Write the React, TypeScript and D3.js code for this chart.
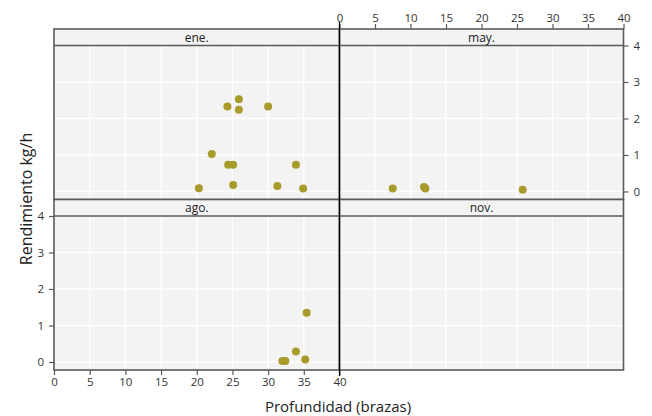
import React, { useEffect, useRef } from 'react';
import * as d3 from 'd3';

// Profundidad (brazas) / Rendimiento kg/h por mes
const months = ['ene.', 'may.', 'ago.', 'nov.'];
const eneDepth = [20.3, 22.1, 24.3, 25.9, 25.9, 30.0, 24.4, 25.1, 25.1, 31.3, 33.9, 34.9];
const eneYield = [0.09, 1.03, 2.33, 2.53, 2.24, 2.33, 0.73, 0.73, 0.18, 0.15, 0.73, 0.08];
const mayDepth = [7.5, 11.9, 12.1, 25.8];
const mayYield = [0.08, 0.12, 0.08, 0.05];
const agoDepth = [32.0, 32.4, 33.9, 35.2, 35.4];
const agoYield = [0.03, 0.03, 0.29, 0.07, 1.35];
const novDepth: number[] = [];
const novYield: number[] = [];
const xTicks = [0, 5, 10, 15, 20, 25, 30, 35, 40];
const yTicks = [0, 1, 2, 3, 4];

function App() {
  const ref = useRef<SVGSVGElement>(null);

  useEffect(() => {
    const svg = d3.select(ref.current);
    svg.selectAll('*').remove();

    const L = 54, M = 339.5, R = 623.5;
    const stripH = 16.5;
    const rows = [{ top: 29 }, { top: 199.5 }];
    const panelH = 154;
    const frame = '#5a5a5a';
    const font = "'Open Sans', 'Noto Sans', sans-serif";

    const xs = [
      d3.scaleLinear().domain([0, 40]).range([L, M]),
      d3.scaleLinear().domain([0, 40]).range([M, R]),
    ];
    const ys = rows.map(r =>
      d3.scaleLinear().domain([-0.22, 4]).range([r.top + stripH + panelH, r.top + stripH])
    );

    const data = [
      { depth: eneDepth, yld: eneYield },
      { depth: mayDepth, yld: mayYield },
      { depth: agoDepth, yld: agoYield },
      { depth: novDepth, yld: novYield },
    ];

    months.forEach((m, i) => {
      const col = i % 2, row = Math.floor(i / 2);
      const x = xs[col], y = ys[row];
      const x0 = x.range()[0], x1 = x.range()[1];
      const top = rows[row].top;
      const g = svg.append('g');

      // panel background
      g.append('rect').attr('x', x0).attr('y', top + stripH)
        .attr('width', x1 - x0).attr('height', panelH).attr('fill', '#f3f3f3');
      // grid
      g.selectAll('.gx').data(xTicks.slice(1, -1)).join('line')
        .attr('x1', d => x(d)).attr('x2', d => x(d))
        .attr('y1', top + stripH).attr('y2', top + stripH + panelH)
        .attr('stroke', '#ffffff').attr('stroke-width', 1.3);
      g.selectAll('.gy').data(yTicks.slice(0, -1)).join('line')
        .attr('x1', x0).attr('x2', x1)
        .attr('y1', d => y(d)).attr('y2', d => y(d))
        .attr('stroke', '#ffffff').attr('stroke-width', 1.3);
      // strip
      g.append('rect').attr('x', x0).attr('y', top)
        .attr('width', x1 - x0).attr('height', stripH).attr('fill', '#f3f3f3');
      g.append('line').attr('x1', x0).attr('x2', x1)
        .attr('y1', top + stripH).attr('y2', top + stripH)
        .attr('stroke', frame).attr('stroke-width', 1.6);
      g.append('text').attr('x', (x0 + x1) / 2).attr('y', top + 12.5)
        .attr('text-anchor', 'middle').style('font-family', font)
        .style('font-size', '12px').attr('fill', '#222').text(m);
      // points
      g.selectAll('circle').data(data[i].depth).join('circle')
        .attr('cx', d => x(d)).attr('cy', (d, k) => y(data[i].yld[k]))
        .attr('r', 4).attr('fill', '#a89a2b');
      // frame
      g.append('rect').attr('x', x0).attr('y', top)
        .attr('width', x1 - x0).attr('height', stripH + panelH)
        .attr('fill', 'none').attr('stroke', frame).attr('stroke-width', 1.6);
    });

    const styleAxis = (sel: any) => {
      sel.select('.domain').remove();
      sel.selectAll('line').attr('stroke', frame).attr('stroke-width', 1.2);
      sel.selectAll('text').style('font-family', font).style('font-size', '11.5px').attr('fill', '#333');
    };
    const fmt = d3.format('d');

    // top axis (right column)
    svg.append('g').attr('transform', `translate(0,${rows[0].top})`)
      .call(d3.axisTop(xs[1]).tickValues(xTicks).tickFormat(fmt).tickSize(5).tickPadding(2))
      .call(styleAxis);
    // bottom axis (left column)
    svg.append('g').attr('transform', `translate(0,${rows[1].top + stripH + panelH})`)
      .call(d3.axisBottom(xs[0]).tickValues(xTicks).tickFormat(fmt).tickSize(5).tickPadding(3))
      .call(styleAxis);
    // right axis (top row)
    svg.append('g').attr('transform', `translate(${R},0)`)
      .call(d3.axisRight(ys[0]).tickValues(yTicks).tickFormat(fmt).tickSize(5).tickPadding(5))
      .call(styleAxis);
    // left axis (bottom row)
    svg.append('g').attr('transform', `translate(${L},0)`)
      .call(d3.axisLeft(ys[1]).tickValues(yTicks).tickFormat(fmt).tickSize(5).tickPadding(5))
      .call(styleAxis);

    // central divider line
    svg.append('line').attr('x1', M).attr('x2', M).attr('y1', 22).attr('y2', 376)
      .attr('stroke', '#000').attr('stroke-width', 1.3);

    // axis titles
    svg.append('text').attr('transform', `translate(32,199) rotate(-90)`)
      .attr('text-anchor', 'middle').style('font-family', font)
      .style('font-size', '16px').attr('fill', '#222').text('Rendimiento kg/h');
    svg.append('text').attr('x', 338).attr('y', 412)
      .attr('text-anchor', 'middle').style('font-family', font)
      .style('font-size', '15px').attr('fill', '#222').text('Profundidad (brazas)');
  }, []);

  return (
    <svg ref={ref} width={652} height={416}
      style={{ position: 'absolute', left: 0, top: 0, background: '#fff' }} />
  );
}

export default App;
